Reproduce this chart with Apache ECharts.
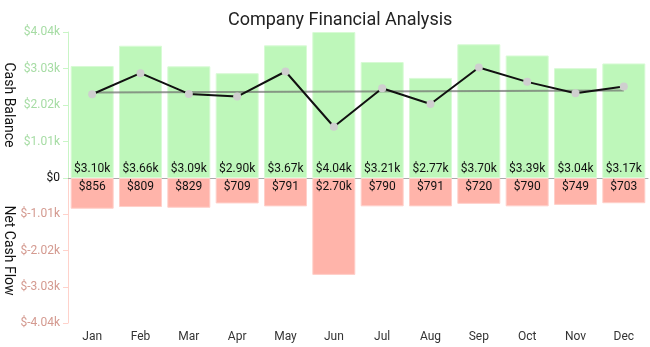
<!DOCTYPE html>
<html>
<head>
<meta charset="utf-8">
<script src="https://cdn.jsdelivr.net/npm/echarts@6/dist/echarts.min.js"></script>
<style>html,body{margin:0;padding:0;background:#fff;}#chart{width:650px;height:347px;}</style>
</head>
<body>
<div id="chart"></div>
<script>
const categories = ['Jan','Feb','Mar','Apr','May','Jun','Jul','Aug','Sep','Oct','Nov','Dec'];
const cashBalance = [3100,3660,3090,2900,3670,4040,3210,2770,3700,3390,3040,3170];
const netCashFlow = [-856,-809,-829,-709,-791,-2700,-790,-791,-720,-790,-749,-703];
const runningLine = [2318,2902,2327,2252,2947,1418,2485,2049,3058,2660,2346,2530];
const trendLine = [2363,'-','-','-','-','-','-','-','-','-','-',2419];
const axisMax = 4040;
const axisStep = 1010;

function axisFmt(v){ return v === 0 ? '$0' : '$' + (v/1000).toFixed(2) + 'k'; }
function barFmt(p){ const a = Math.abs(p.value); return a >= 1000 ? '$' + (a/1000).toFixed(2) + 'k' : '$' + a; }

const chart = echarts.init(document.getElementById('chart'));
const font = 'Roboto, sans-serif';
chart.setOption({
  animation: false,
  textStyle: { fontFamily: font },
  title: { text: 'Company Financial Analysis', left: 223, top: 6,
    textStyle: { fontSize: 18, fontWeight: 'normal', color: '#222', fontFamily: font } },
  grid: [
    { left: 68, right: 2, top: 32, height: 146, outerBoundsMode: 'none', containLabel: false },
    { left: 68, right: 2, top: 178, height: 145, outerBoundsMode: 'none', containLabel: false }
  ],
  xAxis: [
    { type: 'category', data: categories, gridIndex: 0, show: false },
    { type: 'category', data: categories, gridIndex: 1,
      axisLine: { lineStyle: { color: '#aaa' } },
      axisTick: { show: true, alignWithLabel: true, lineStyle: { color: '#aaa' } },
      axisLabel: { color: '#333', fontSize: 12, margin: 8 } }
  ],
  yAxis: [
    { type: 'value', gridIndex: 0, min: 0, max: axisMax, interval: axisStep,
      name: 'Cash Balance', nameLocation: 'middle', nameGap: 53, nameRotate: 270, nameMoveOverlap: false,
      nameTextStyle: { color: '#111', fontSize: 14, fontFamily: font },
      axisLine: { show: true, lineStyle: { color: '#c9f5c6' } },
      axisTick: { show: true, lineStyle: { color: '#c9f5c6' } },
      splitLine: { show: false },
      axisLabel: { formatter: axisFmt, fontSize: 12,
        color: function(v){ return Number(v) === 0 ? '#111' : '#a6dca4'; } } },
    { type: 'value', gridIndex: 1, min: -axisMax, max: 0, interval: axisStep,
      name: 'Net Cash Flow', nameLocation: 'middle', nameGap: 53, nameRotate: 270, nameMoveOverlap: false,
      nameTextStyle: { color: '#111', fontSize: 14, fontFamily: font },
      axisLine: { show: true, lineStyle: { color: '#ffd2cb' } },
      axisTick: { show: true, lineStyle: { color: '#ffd2cb' } },
      splitLine: { show: false },
      axisLabel: { formatter: axisFmt, fontSize: 12, color: '#d49a90', showMaxLabel: false } }
  ],
  series: [
    { name: 'Cash Balance', type: 'bar', xAxisIndex: 0, yAxisIndex: 0, data: cashBalance,
      barWidth: '89%', itemStyle: { color: '#bef7ba', borderColor: '#d8fbd5', borderWidth: 1 },
      label: { show: true, position: 'insideBottom', distance: 3, color: '#111', fontSize: 12, formatter: barFmt } },
    { name: 'Net Cash Flow', type: 'bar', xAxisIndex: 1, yAxisIndex: 1, data: netCashFlow,
      barWidth: '89%', itemStyle: { color: '#ffb4aa', borderColor: '#ffd0ca', borderWidth: 1 },
      label: { show: true, position: 'insideTop', distance: 3, color: '#111', fontSize: 12, formatter: barFmt } },
    { name: 'Trend', type: 'line', xAxisIndex: 0, yAxisIndex: 0, data: trendLine, connectNulls: true,
      symbol: 'none', lineStyle: { color: 'rgba(110,110,110,0.7)', width: 2 }, z: 3 },
    { name: 'Balance', type: 'line', xAxisIndex: 0, yAxisIndex: 0, data: runningLine,
      symbol: 'circle', symbolSize: 8, lineStyle: { color: '#111', width: 2 },
      itemStyle: { color: '#cfcfcf' }, z: 4 }
  ]
});
</script>
</body>
</html>
